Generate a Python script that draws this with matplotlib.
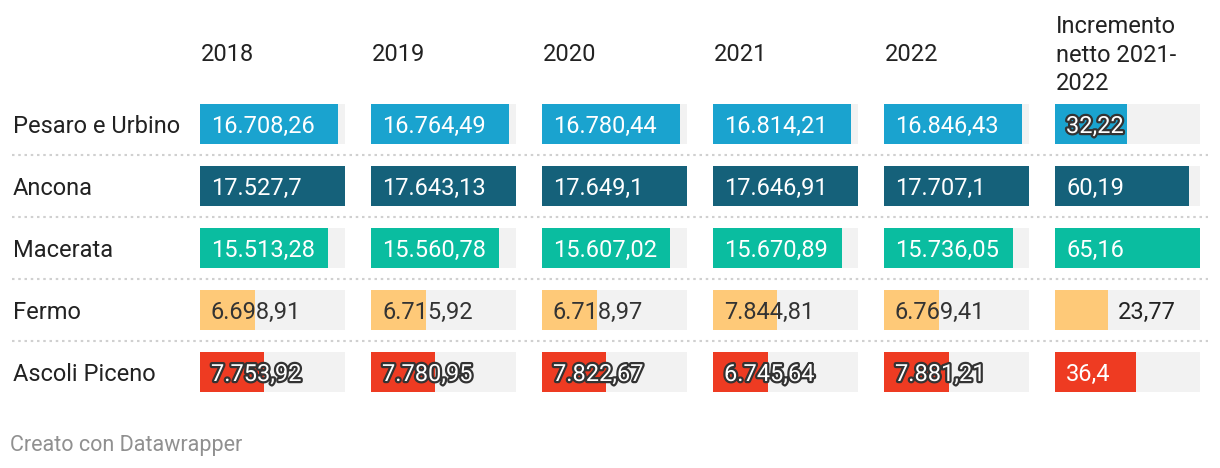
import matplotlib
matplotlib.use("Agg")
import matplotlib.pyplot as plt
import matplotlib.patheffects as pe

plt.rcParams['font.family'] = ['Roboto', 'DejaVu Sans']

# ---- data ----
regions = ["Pesaro e Urbino", "Ancona", "Macerata", "Fermo", "Ascoli Piceno"]
columns = ["2018", "2019", "2020", "2021", "2022", "Incremento\nnetto 2021-\n2022"]
v2018 = [16708.26, 17527.7, 15513.28, 6698.91, 7753.92]
v2019 = [16764.49, 17643.13, 15560.78, 6715.92, 7780.95]
v2020 = [16780.44, 17649.1, 15607.02, 6718.97, 7822.67]
v2021 = [16814.21, 17646.91, 15670.89, 7844.81, 6745.64]
v2022 = [16846.43, 17707.1, 15736.05, 6769.41, 7881.21]
incr = [32.22, 60.19, 65.16, 23.77, 36.4]
series = [v2018, v2019, v2020, v2021, v2022, incr]

row_colors = ["#1aa3cf", "#15617a", "#0abda0", "#fec978", "#ee3b22"]
bg_color = "#f2f2f2"
text_dark = "#222222"

W, H = 1220, 468
fig = plt.figure(figsize=(W / 100, H / 100), dpi=100)

# background axes in pixel coordinates
base = fig.add_axes([0, 0, 1, 1])
base.set_xlim(0, W)
base.set_ylim(H, 0)
base.axis("off")

fs = 17

def fmt(v):
    s = f"{v:,.2f}"
    s = s.rstrip("0").rstrip(".") if "." in s else s
    return s.replace(",", "X").replace(".", ",").replace("X", ".")

col_lefts = [200, 371, 542, 713, 884, 1055]
col_w = 145
row_top, row_h = 93, 62

# headers
for i, c in enumerate(columns):
    if "\n" in c:
        lines = c.split("\n")
        for k, ln in enumerate(lines):
            base.text(col_lefts[i] + 1, 24 + k * 28.5, ln, fontsize=fs, color=text_dark,
                      va="center_baseline", ha="left")
    else:
        base.text(col_lefts[i] + 1, 52, c, fontsize=fs, color=text_dark,
                  va="center_baseline", ha="left")

# row labels and separators
for r, name in enumerate(regions):
    yc = row_top + row_h / 2 + r * row_h
    base.text(13, yc, name, fontsize=fs, color=text_dark, va="center_baseline", ha="left")
    if r < len(regions) - 1:
        ys = row_top + (r + 1) * row_h
        base.plot([12, 1208], [ys, ys], color="#d0d0d0", lw=1.5,
                  linestyle=(0, (1.2, 1.8)))

base.text(10, 443, "Creato con Datawrapper", fontsize=15.5, color="#909090",
          va="center_baseline", ha="left")

# value columns
halo = [pe.withStroke(linewidth=3.2, foreground="#333333")]
for i, vals in enumerate(series):
    ax = fig.add_axes([col_lefts[i] / W, 1 - (row_top + 5 * row_h) / H,
                       col_w / W, 5 * row_h / H])
    vmax = max(vals)
    ax.set_xlim(0, vmax)
    ax.set_ylim(4.5, -0.5)
    ax.axis("off")
    ys = list(range(len(regions)))
    bh = 40 / row_h
    ax.barh(ys, [vmax] * len(vals), height=bh, color=bg_color, left=0)
    ax.barh(ys, vals, height=bh, color=row_colors, left=0)
    for r, v in enumerate(vals):
        label = fmt(v)
        color = "white"
        effects = None
        x0 = 0
        off = 11
        bar_px = v / vmax * col_w
        if r == 3:
            color = "#333333"
            if i == 5:
                x0 = v
                off = 10
                color = text_dark
        elif bar_px < 78:
            effects = halo
        t = ax.annotate(label, xy=(x0, r), xytext=(off, 0), textcoords="offset pixels",
                        fontsize=fs, color=color, va="center_baseline", ha="left")
        if effects:
            t.set_path_effects(effects)

fig.savefig("out.png", dpi=100)
